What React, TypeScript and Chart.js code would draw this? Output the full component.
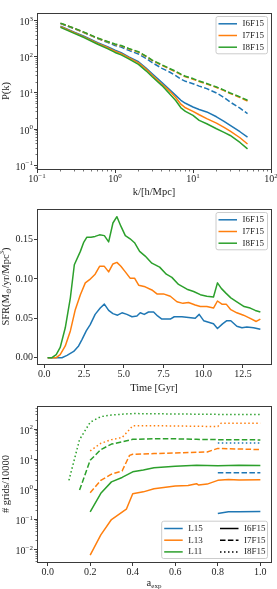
import React, { useEffect, useRef } from 'react';
import { Chart, registerables } from 'chart.js';

Chart.register(...registerables);

const W = 277;
const BLUE = '#1f77b4';
const ORANGE = '#ff7f0e';
const GREEN = '#2ca02c';
const BLACK = '#000000';
const AX = '#3a3a3a';
const TX = '#1e1e1e';
const FONT = '"Liberation Serif", "DejaVu Serif", serif';
const SOLID: number[] = [];
const DASH = [5.5, 2.4];
const DOT = [1.5, 2.5];

// ---------------- Panel 1: power spectrum ----------------
const PK_K = [0.2, 0.3, 0.4, 0.6, 0.8, 1.0, 1.2, 1.5, 2, 2.5, 3, 4, 5, 6, 7, 8, 10, 12, 15, 20, 25, 30, 40, 50];
const PK_I6F15 = [700, 480, 370, 245, 190, 152, 130, 100, 73, 49, 34, 19.5, 12.4, 8.6, 6.3, 5.2, 4.1, 3.5, 3.0, 2.2, 1.65, 1.27, 0.85, 0.6];
const PK_I7F15 = [680, 465, 355, 235, 180, 142, 122, 95, 68, 46, 31, 17.5, 11.4, 7.5, 4.9, 3.9, 3.1, 2.5, 1.95, 1.47, 1.12, 0.88, 0.58, 0.39];
const PK_I8F15 = [650, 445, 340, 222, 168, 132, 113, 88, 62, 41, 28, 16, 9.6, 6.2, 3.9, 3.1, 2.4, 1.75, 1.41, 1.03, 0.82, 0.67, 0.43, 0.286];
const PK_I6_DASHED = [830, 600, 465, 320, 250, 205, 185, 150, 119, 90, 69, 48, 38, 30, 24, 21, 18, 15.5, 13.2, 10, 7.5, 5.6, 3.8, 2.7];
const PK_I7_DASHED = [840, 610, 470, 325, 260, 220, 200, 165, 134, 102, 79, 58, 46, 38.5, 32, 28, 24, 20.8, 17.7, 14.2, 11.6, 9.7, 7.5, 6.0];
const PK_I8_DASHED = [850, 620, 480, 330, 265, 225, 205, 170, 138, 105, 81, 60, 47.6, 40, 33, 29, 25, 21.5, 18.3, 14.7, 12, 10, 7.8, 6.3];
const P1_X_EXP = [-1, 0, 1, 2];
const P1_Y_EXP = [-1, 0, 1, 2, 3];

// ---------------- Panel 2: star formation rate ----------------
const SFR_T_I6F15 = [0.21, 1.11, 1.43, 1.85, 2.16, 2.37, 2.64, 2.89, 3.2, 3.52, 3.78, 4.05, 4.32, 4.61, 4.89, 5.2, 5.52, 5.83, 6.04, 6.29, 6.56, 6.88, 7.13, 7.4, 7.72, 7.93, 8.18, 8.66, 9.08, 9.5, 9.75, 10.03, 10.34, 10.65, 10.9, 11.22, 11.49, 11.74, 12.12, 12.44, 12.75, 13.17, 13.6];
const SFR_I6F15 = [0, 0, 0.003, 0.008, 0.015, 0.023, 0.034, 0.042, 0.055, 0.063, 0.068, 0.060, 0.056, 0.054, 0.057, 0.055, 0.052, 0.053, 0.057, 0.055, 0.058, 0.058, 0.053, 0.049, 0.049, 0.049, 0.052, 0.052, 0.051, 0.050, 0.055, 0.047, 0.045, 0.043, 0.037, 0.043, 0.047, 0.047, 0.040, 0.038, 0.039, 0.038, 0.036];
const SFR_T_I7F15 = [0.21, 0.75, 1.0, 1.32, 1.64, 1.95, 2.27, 2.58, 2.85, 3.2, 3.48, 3.78, 4.05, 4.32, 4.57, 4.82, 5.1, 5.4, 5.68, 5.94, 6.35, 6.77, 7.09, 7.5, 7.93, 8.35, 8.73, 9.08, 9.5, 9.82, 10.23, 10.65, 10.9, 11.18, 11.45, 11.74, 12.12, 12.54, 12.96, 13.34, 13.6];
const SFR_I7F15 = [0, 0, 0.004, 0.015, 0.034, 0.061, 0.080, 0.095, 0.099, 0.106, 0.116, 0.116, 0.109, 0.119, 0.121, 0.116, 0.109, 0.101, 0.101, 0.092, 0.090, 0.086, 0.081, 0.081, 0.078, 0.071, 0.069, 0.070, 0.067, 0.065, 0.065, 0.063, 0.072, 0.068, 0.068, 0.061, 0.057, 0.054, 0.050, 0.046, 0.049];
const SFR_T_I8F15 = [0.21, 0.48, 0.75, 1.0, 1.32, 1.64, 1.89, 2.27, 2.47, 2.68, 2.94, 3.2, 3.48, 3.78, 4.05, 4.32, 4.57, 4.82, 5.1, 5.4, 5.68, 6.0, 6.35, 6.77, 7.26, 7.68, 8.03, 8.45, 8.98, 9.4, 9.82, 10.23, 10.65, 10.9, 11.14, 11.43, 11.74, 12.12, 12.58, 12.96, 13.28, 13.6];
const SFR_I8F15 = [0, 0, 0.004, 0.013, 0.038, 0.076, 0.118, 0.135, 0.146, 0.153, 0.153, 0.154, 0.156, 0.155, 0.147, 0.171, 0.179, 0.167, 0.155, 0.151, 0.146, 0.135, 0.129, 0.120, 0.115, 0.106, 0.102, 0.093, 0.087, 0.084, 0.080, 0.078, 0.077, 0.095, 0.088, 0.082, 0.076, 0.071, 0.065, 0.063, 0.060, 0.058];
const P2_X_TICKS = [0, 2.5, 5, 7.5, 10, 12.5];
const P2_Y_TICKS = [0, 0.05, 0.1, 0.15];

// ---------------- Panel 3: number of grids ----------------
const GR_A_L15_I6 = [0.8, 0.85, 0.9, 1.0];
const GR_L15_I6 = [0.16, 0.18, 0.18, 0.185];
const GR_A_L13_I6 = [0.2, 0.25, 0.3, 0.37, 0.4, 0.45, 0.5, 0.6, 0.66, 0.7, 0.71, 0.75, 0.8, 0.85, 0.9, 1.0];
const GR_L13_I6 = [0.0066, 0.031, 0.1, 0.22, 0.72, 0.83, 1.05, 1.3, 1.35, 1.55, 1.4, 1.5, 2.0, 2.15, 2.05, 2.1];
const GR_A_L11_I6 = [0.2, 0.25, 0.3, 0.35, 0.4, 0.45, 0.5, 0.6, 0.7, 0.8, 0.9, 1.0];
const GR_L11_I6 = [0.18, 0.74, 1.78, 2.5, 3.85, 4.4, 5.2, 5.9, 6.3, 6.1, 6.3, 6.2];
const GR_A_L15_I7 = [0.8, 0.9, 1.0];
const GR_L15_I7 = [3.55, 3.55, 3.55];
const GR_A_L13_I7 = [0.2, 0.25, 0.3, 0.35, 0.385, 0.4, 0.5, 0.6, 0.7, 0.75, 0.8, 0.9, 1.0];
const GR_L13_I7 = [0.78, 2.0, 3.2, 4.1, 13.5, 14.7, 15.5, 16.3, 17.2, 17.5, 23, 22, 21];
const GR_A_L11_I7 = [0.15, 0.2, 0.25, 0.3, 0.35, 0.4, 0.5, 0.6, 0.7, 0.8, 0.9, 1.0];
const GR_L11_I7 = [0.95, 9.3, 21, 32, 38, 46, 48, 48, 46, 45, 45, 44];
const GR_A_L15_I8 = [0.8, 0.85, 0.9, 0.95, 1.0];
const GR_L15_I8 = [35, 35, 35, 35, 35];
const GR_A_L13_I8 = [0.2, 0.25, 0.3, 0.35, 0.375, 0.4, 0.5, 0.6, 0.7, 0.8, 0.815, 0.9, 1.0];
const GR_L13_I8 = [19, 34, 45, 53, 82, 130, 130, 128, 125, 122, 158, 158, 158];
const GR_A_L11_I8 = [0.1, 0.15, 0.2, 0.25, 0.3, 0.35, 0.4, 0.5, 0.6, 0.7, 0.8, 0.9, 1.0];
const GR_L11_I8 = [2.0, 45, 170, 262, 295, 315, 330, 325, 320, 315, 310, 310, 305];
const P3_X_TICKS = [0, 0.2, 0.4, 0.6, 0.8, 1.0];
const P3_Y_EXP = [-2, -1, 0, 1, 2];

// ---------------- helpers ----------------
function pts(xs: number[], ys: number[]) {
  return xs.map((x, i) => ({ x, y: ys[i] }));
}

function series(label: string, xs: number[], ys: number[], color: string, dash: number[], order: number) {
  return {
    label,
    data: pts(xs, ys),
    borderColor: color,
    backgroundColor: color,
    borderWidth: 1.5,
    borderDash: dash,
    borderJoinStyle: 'round',
    pointRadius: 0,
    pointHoverRadius: 0,
    tension: 0,
    fill: false,
    order,
  };
}

function logMinors(e0: number, e1: number) {
  const out: number[] = [];
  for (let e = e0; e <= e1; e++) for (let m = 2; m <= 9; m++) out.push(m * Math.pow(10, e));
  return out;
}

type Seg = { t: string; s: number; dy?: number };
type Row = { x: number; y: number; color: string; dash: number[]; label: string };
type Spec = {
  xMajors: number[];
  xMinors: number[];
  yMajors: number[];
  yMinors: number[];
  xLogExp?: number[];
  yLogExp?: number[];
  xTitle: Seg[];
  xTitleY: number;
  yTitle: Seg[];
  yTitleX: number;
  legendBox: number[];
  rows: Row[];
};

const snap = (p: number) => Math.floor(p) + 0.5;

function segWidth(ctx: CanvasRenderingContext2D, segs: Seg[]) {
  let w = 0;
  for (const s of segs) {
    ctx.font = `${s.s}px ${FONT}`;
    w += ctx.measureText(s.t).width;
  }
  return w;
}

function drawSegs(ctx: CanvasRenderingContext2D, segs: Seg[], cx: number, base: number) {
  let x = cx - segWidth(ctx, segs) / 2;
  ctx.textAlign = 'left';
  ctx.textBaseline = 'alphabetic';
  for (const s of segs) {
    ctx.font = `${s.s}px ${FONT}`;
    ctx.fillText(s.t, x, base + (s.dy || 0));
    x += ctx.measureText(s.t).width;
  }
}

function powSegs(e: number): Seg[] {
  const es = e < 0 ? '\u2212' + String(-e) : String(e);
  return [
    { t: '10', s: 10 },
    { t: es, s: 7, dy: -4.5 },
  ];
}

function makeFrame(spec: Spec) {
  return {
    id: 'mplFrame',
    afterDraw(chart: any) {
      const ctx: CanvasRenderingContext2D = chart.ctx;
      const a = chart.chartArea;
      const sx = chart.scales.x;
      const sy = chart.scales.y;
      const L = snap(a.left), R = snap(a.right), T = snap(a.top), B = snap(a.bottom);
      ctx.save();
      ctx.strokeStyle = AX;
      ctx.fillStyle = TX;
      ctx.setLineDash([]);
      ctx.lineWidth = 1;
      ctx.strokeRect(L, T, R - L, B - T);
      const inX = (v: number) => v >= sx.min - 1e-9 && v <= sx.max + 1e-9;
      const inY = (v: number) => v >= sy.min - 1e-9 && v <= sy.max + 1e-9;
      const xt = (vals: number[], len: number, lw: number) => {
        ctx.lineWidth = lw;
        ctx.beginPath();
        for (const v of vals) {
          if (!inX(v)) continue;
          const p = snap(sx.getPixelForValue(v));
          ctx.moveTo(p, B);
          ctx.lineTo(p, B + len);
        }
        ctx.stroke();
      };
      const yt = (vals: number[], len: number, lw: number) => {
        ctx.lineWidth = lw;
        ctx.beginPath();
        for (const v of vals) {
          if (!inY(v)) continue;
          const p = snap(sy.getPixelForValue(v));
          ctx.moveTo(L, p);
          ctx.lineTo(L - len, p);
        }
        ctx.stroke();
      };
      xt(spec.xMajors, 3.5, 1);
      xt(spec.xMinors, 2, 0.7);
      yt(spec.yMajors, 3.5, 1);
      yt(spec.yMinors, 2, 0.7);
      if (spec.xLogExp) {
        for (const e of spec.xLogExp) {
          const p = sx.getPixelForValue(Math.pow(10, e));
          drawSegs(ctx, powSegs(e), p, a.bottom + 13);
        }
      }
      if (spec.yLogExp) {
        for (const e of spec.yLogExp) {
          const p = sy.getPixelForValue(Math.pow(10, e));
          const segs = powSegs(e);
          const w = segWidth(ctx, segs);
          drawSegs(ctx, segs, a.left - 4 - w / 2, p + 4.5);
        }
      }
      drawSegs(ctx, spec.xTitle, (a.left + a.right) / 2, spec.xTitleY);
      ctx.save();
      ctx.translate(spec.yTitleX, (a.top + a.bottom) / 2);
      ctx.rotate(-Math.PI / 2);
      drawSegs(ctx, spec.yTitle, 0, 0);
      ctx.restore();
      const [bx0, by0, bx1, by1] = spec.legendBox;
      ctx.beginPath();
      const r = 2;
      ctx.moveTo(bx0 + r, by0);
      ctx.lineTo(bx1 - r, by0);
      ctx.quadraticCurveTo(bx1, by0, bx1, by0 + r);
      ctx.lineTo(bx1, by1 - r);
      ctx.quadraticCurveTo(bx1, by1, bx1 - r, by1);
      ctx.lineTo(bx0 + r, by1);
      ctx.quadraticCurveTo(bx0, by1, bx0, by1 - r);
      ctx.lineTo(bx0, by0 + r);
      ctx.quadraticCurveTo(bx0, by0, bx0 + r, by0);
      ctx.closePath();
      ctx.fillStyle = 'rgba(255,255,255,0.8)';
      ctx.fill();
      ctx.strokeStyle = '#cccccc';
      ctx.lineWidth = 1;
      ctx.stroke();
      for (const row of spec.rows) {
        ctx.strokeStyle = row.color;
        ctx.lineWidth = 1.5;
        ctx.setLineDash(row.dash);
        ctx.beginPath();
        ctx.moveTo(row.x, row.y);
        ctx.lineTo(row.x + 18.5, row.y);
        ctx.stroke();
        ctx.setLineDash([]);
        ctx.fillStyle = TX;
        ctx.font = `9px ${FONT}`;
        ctx.textAlign = 'left';
        ctx.textBaseline = 'middle';
        ctx.fillText(row.label, row.x + 24, row.y);
      }
      ctx.restore();
    },
  };
}

function baseOptions(top: number) {
  return {
    animation: false,
    responsive: false,
    maintainAspectRatio: false,
    devicePixelRatio: 1,
    events: [],
    layout: { padding: { left: 0, right: W - 271, top, bottom: 0 } },
    plugins: { legend: { display: false }, tooltip: { enabled: false }, title: { display: false } },
    elements: { point: { radius: 0 }, line: { tension: 0 } },
  } as any;
}

const tickFont = { family: FONT, size: 10 };
const noGrid = { display: false, drawTicks: false, tickLength: 0 };

function config1(H: number) {
  const bottom = 169;
  const o = baseOptions(13);
  o.scales = {
    x: {
      type: 'logarithmic', min: 0.1, max: 100, position: 'bottom',
      grid: noGrid, border: { display: false }, ticks: { display: false },
      afterFit: (s: any) => { s.height = H - bottom; },
    },
    y: {
      type: 'logarithmic', min: Math.pow(10, -1.1), max: Math.pow(10, 3.21), position: 'left',
      grid: noGrid, border: { display: false }, ticks: { display: false },
      afterFit: (s: any) => { s.width = 37; },
    },
  };
  const rowsY = [23.8, 35.5, 47.2];
  const spec: Spec = {
    xMajors: P1_X_EXP.map((e) => Math.pow(10, e)),
    xMinors: logMinors(-1, 1),
    yMajors: P1_Y_EXP.map((e) => Math.pow(10, e)),
    yMinors: logMinors(-2, 3),
    xLogExp: P1_X_EXP,
    yLogExp: P1_Y_EXP,
    xTitle: [{ t: 'k/[h/Mpc]', s: 10.5 }],
    xTitleY: 195,
    yTitle: [{ t: 'P(k)', s: 10.5 }],
    yTitleX: 8.5,
    legendBox: [216, 16.5, 267.5, 53.8],
    rows: [
      { x: 218.5, y: rowsY[0], color: BLUE, dash: SOLID, label: 'I6F15' },
      { x: 218.5, y: rowsY[1], color: ORANGE, dash: SOLID, label: 'I7F15' },
      { x: 218.5, y: rowsY[2], color: GREEN, dash: SOLID, label: 'I8F15' },
    ],
  };
  return {
    type: 'line',
    data: {
      datasets: [
        series('I6F15', PK_K, PK_I6F15, BLUE, SOLID, 6),
        series('I6F15 dashed', PK_K, PK_I6_DASHED, BLUE, DASH, 5),
        series('I7F15', PK_K, PK_I7F15, ORANGE, SOLID, 4),
        series('I7F15 dashed', PK_K, PK_I7_DASHED, ORANGE, DASH, 3),
        series('I8F15', PK_K, PK_I8F15, GREEN, SOLID, 2),
        series('I8F15 dashed', PK_K, PK_I8_DASHED, GREEN, DASH, 1),
      ],
    },
    options: o,
    plugins: [makeFrame(spec)],
  };
}

function config2(H: number) {
  const bottom = 168;
  const o = baseOptions(13);
  o.scales = {
    x: {
      type: 'linear', min: -0.46, max: 14.27, position: 'bottom',
      grid: noGrid, border: { display: false },
      ticks: { font: tickFont, color: TX, padding: 4.5, autoSkip: false, maxRotation: 0, minRotation: 0, callback: (v: any) => Number(v).toFixed(1) },
      afterBuildTicks: (s: any) => { s.ticks = P2_X_TICKS.map((v) => ({ value: v })); },
      afterFit: (s: any) => { s.height = H - bottom; },
    },
    y: {
      type: 'linear', min: -0.008, max: 0.1888, position: 'left',
      grid: noGrid, border: { display: false },
      ticks: { font: tickFont, color: TX, padding: 4, autoSkip: false, callback: (v: any) => Number(v).toFixed(2) },
      afterBuildTicks: (s: any) => { s.ticks = P2_Y_TICKS.map((v) => ({ value: v })); },
      afterFit: (s: any) => { s.width = 37; },
    },
  };
  const rowsY = [23.8, 35.5, 47.2];
  const spec: Spec = {
    xMajors: P2_X_TICKS,
    xMinors: [],
    yMajors: P2_Y_TICKS,
    yMinors: [],
    xTitle: [{ t: 'Time [Gyr]', s: 10.5 }],
    xTitleY: 195,
    yTitle: [
      { t: 'SFR(M', s: 10.5 },
      { t: '\u2299', s: 7, dy: 2.5 },
      { t: '/yr/Mpc', s: 10.5 },
      { t: '3', s: 7, dy: -4.5 },
      { t: ')', s: 10.5 },
    ],
    yTitleX: 8.5,
    legendBox: [216, 16.5, 267.5, 53.8],
    rows: [
      { x: 218.5, y: rowsY[0], color: BLUE, dash: SOLID, label: 'I6F15' },
      { x: 218.5, y: rowsY[1], color: ORANGE, dash: SOLID, label: 'I7F15' },
      { x: 218.5, y: rowsY[2], color: GREEN, dash: SOLID, label: 'I8F15' },
    ],
  };
  return {
    type: 'line',
    data: {
      datasets: [
        series('I6F15', SFR_T_I6F15, SFR_I6F15, BLUE, SOLID, 3),
        series('I7F15', SFR_T_I7F15, SFR_I7F15, ORANGE, SOLID, 2),
        series('I8F15', SFR_T_I8F15, SFR_I8F15, GREEN, SOLID, 1),
      ],
    },
    options: o,
    plugins: [makeFrame(spec)],
  };
}

function config3(H: number) {
  const bottom = 170;
  const o = baseOptions(14);
  o.scales = {
    x: {
      type: 'linear', min: -0.05, max: 1.05, position: 'bottom',
      grid: noGrid, border: { display: false },
      ticks: { font: tickFont, color: TX, padding: 4.5, autoSkip: false, maxRotation: 0, minRotation: 0, callback: (v: any) => Number(v).toFixed(1) },
      afterBuildTicks: (s: any) => { s.ticks = P3_X_TICKS.map((v) => ({ value: v })); },
      afterFit: (s: any) => { s.height = H - bottom; },
    },
    y: {
      type: 'logarithmic', min: Math.pow(10, -2.41), max: Math.pow(10, 2.77), position: 'left',
      grid: noGrid, border: { display: false }, ticks: { display: false },
      afterFit: (s: any) => { s.width = 37; },
    },
  };
  const ry = [136.5, 148.2, 159.9];
  const spec: Spec = {
    xMajors: P3_X_TICKS,
    xMinors: [],
    yMajors: P3_Y_EXP.map((e) => Math.pow(10, e)),
    yMinors: logMinors(-3, 2),
    yLogExp: P3_Y_EXP,
    xTitle: [
      { t: 'a', s: 10.5 },
      { t: 'exp', s: 7, dy: 2.5 },
    ],
    xTitleY: 193.5,
    yTitle: [{ t: '# grids/10000', s: 10.5 }],
    yTitleX: 8.5,
    legendBox: [161.7, 129.2, 267.5, 166.5],
    rows: [
      { x: 164.2, y: ry[0], color: BLUE, dash: SOLID, label: 'L15' },
      { x: 164.2, y: ry[1], color: ORANGE, dash: SOLID, label: 'L13' },
      { x: 164.2, y: ry[2], color: GREEN, dash: SOLID, label: 'L11' },
      { x: 220, y: ry[0], color: BLACK, dash: SOLID, label: 'I6F15' },
      { x: 220, y: ry[1], color: BLACK, dash: DASH, label: 'I7F15' },
      { x: 220, y: ry[2], color: BLACK, dash: DOT, label: 'I8F15' },
    ],
  };
  return {
    type: 'line',
    data: {
      datasets: [
        series('L15 I6F15', GR_A_L15_I6, GR_L15_I6, BLUE, SOLID, 9),
        series('L13 I6F15', GR_A_L13_I6, GR_L13_I6, ORANGE, SOLID, 8),
        series('L11 I6F15', GR_A_L11_I6, GR_L11_I6, GREEN, SOLID, 7),
        series('L15 I7F15', GR_A_L15_I7, GR_L15_I7, BLUE, DASH, 6),
        series('L13 I7F15', GR_A_L13_I7, GR_L13_I7, ORANGE, DASH, 5),
        series('L11 I7F15', GR_A_L11_I7, GR_L11_I7, GREEN, DASH, 4),
        series('L15 I8F15', GR_A_L15_I8, GR_L15_I8, BLUE, DOT, 3),
        series('L13 I8F15', GR_A_L13_I8, GR_L13_I8, ORANGE, DOT, 2),
        series('L11 I8F15', GR_A_L11_I8, GR_L11_I8, GREEN, DOT, 1),
      ],
    },
    options: o,
    plugins: [makeFrame(spec)],
  };
}

function ChartCanvas({ make, top, height }: { make: (h: number) => any; top: number; height: number }) {
  const ref = useRef<HTMLCanvasElement>(null);
  useEffect(() => {
    const chart = new Chart(ref.current as HTMLCanvasElement, make(height));
    return () => chart.destroy();
  }, []);
  return (
    <canvas
      ref={ref}
      width={W}
      height={height}
      style={{ position: 'absolute', left: 0, top, width: W, height, display: 'block' }}
    />
  );
}

export default function App() {
  return (
    <div style={{ position: 'absolute', left: 0, top: 0, width: W, height: 589, background: '#ffffff', overflow: 'hidden' }}>
      <ChartCanvas make={config1} top={0} height={200} />
      <ChartCanvas make={config2} top={196} height={200} />
      <ChartCanvas make={config3} top={392} height={197} />
    </div>
  );
}
